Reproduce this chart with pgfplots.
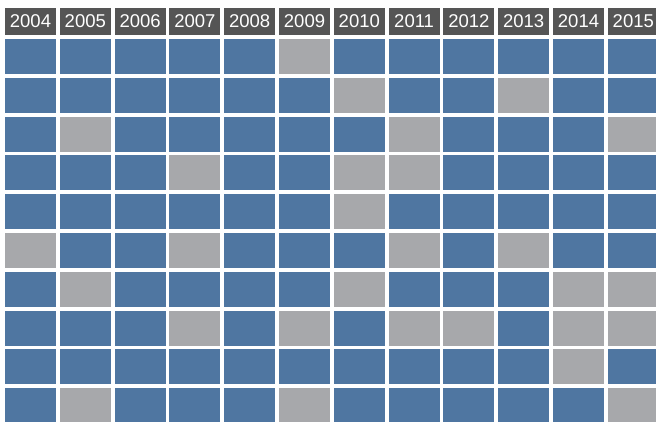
\documentclass[border=0pt]{standalone}
\usepackage{pgfplots}
\usepackage{pgfplotstable}
\usepackage{fontspec}
\setmainfont{Liberation Sans}
\pgfplotsset{compat=1.18}

\definecolor{cellblue}{RGB}{79,118,161}
\definecolor{cellgray}{RGB}{167,168,171}
\definecolor{hdrgray}{RGB}{85,85,85}

% cell marks, sizes in pt (1pt = 1px of the 656x422 target)
\pgfdeclareplotmark{cell}{%
  \pgfpathrectangle{\pgfpoint{-25.5pt}{-17.5pt}}{\pgfpoint{51pt}{35pt}}%
  \pgfusepathqfill}
\pgfdeclareplotmark{hcell}{%
  \pgfpathrectangle{\pgfpoint{-25.5pt}{-13.5pt}}{\pgfpoint{51pt}{27pt}}%
  \pgfusepathqfill}

\pgfplotstableread{
col y year
0 0.098 2004
1 0.098 2005
2 0.098 2006
3 0.098 2007
4 0.098 2008
5 0.098 2009
6 0.098 2010
7 0.098 2011
8 0.098 2012
9 0.098 2013
10 0.098 2014
11 0.098 2015
}\headtab

% state: 1 = blue, 0 = gray
\pgfplotstableread{
col row state
0 1 1
1 1 1
2 1 1
3 1 1
4 1 1
5 1 0
6 1 1
7 1 1
8 1 1
9 1 1
10 1 1
11 1 1
0 2 1
1 2 1
2 2 1
3 2 1
4 2 1
5 2 1
6 2 0
7 2 1
8 2 1
9 2 0
10 2 1
11 2 1
0 3 1
1 3 0
2 3 1
3 3 1
4 3 1
5 3 1
6 3 1
7 3 0
8 3 1
9 3 1
10 3 1
11 3 0
0 4 1
1 4 1
2 4 1
3 4 0
4 4 1
5 4 1
6 4 0
7 4 0
8 4 1
9 4 1
10 4 1
11 4 1
0 5 1
1 5 1
2 5 1
3 5 1
4 5 1
5 5 1
6 5 0
7 5 1
8 5 1
9 5 1
10 5 1
11 5 1
0 6 0
1 6 1
2 6 1
3 6 0
4 6 1
5 6 1
6 6 1
7 6 0
8 6 1
9 6 0
10 6 1
11 6 1
0 7 1
1 7 0
2 7 1
3 7 1
4 7 1
5 7 1
6 7 0
7 7 1
8 7 1
9 7 1
10 7 0
11 7 0
0 8 1
1 8 1
2 8 1
3 8 0
4 8 1
5 8 0
6 8 1
7 8 0
8 8 0
9 8 1
10 8 0
11 8 0
0 9 1
1 9 1
2 9 1
3 9 1
4 9 1
5 9 1
6 9 1
7 9 1
8 9 1
9 9 1
10 9 0
11 9 1
0 10 1
1 10 0
2 10 1
3 10 1
4 10 1
5 10 0
6 10 1
7 10 1
8 10 1
9 10 1
10 10 1
11 10 0
}\celltab

\begin{document}
\begin{tikzpicture}
\begin{axis}[
    name=ax,
    hide axis,
    scale only axis,
    width=656pt, height=422pt,
    xmin=-0.5566, xmax=11.414,
    ymin=-0.456, ymax=10.42,
    y dir=reverse,
    clip marker paths=true,
]
\addplot[
    scatter, only marks, mark=cell,
    scatter src=explicit symbolic,
    scatter/classes={
        0={mark=cell, draw=none, fill=cellgray},
        1={mark=cell, draw=none, fill=cellblue}},
] table[x=col, y=row, meta=state] \celltab;

\addplot[
    only marks, mark=hcell, draw=none, fill=hdrgray,
    point meta=explicit symbolic,
    nodes near coords,
    nodes near coords style={anchor=center, text=white,
        font=\fontsize{18.5}{20}\selectfont, inner sep=0pt},
] table[x=col, y=y, meta=year] \headtab;
\end{axis}
\pgfresetboundingbox
\useasboundingbox (ax.south west) rectangle (ax.north east);
\end{tikzpicture}
\end{document}
